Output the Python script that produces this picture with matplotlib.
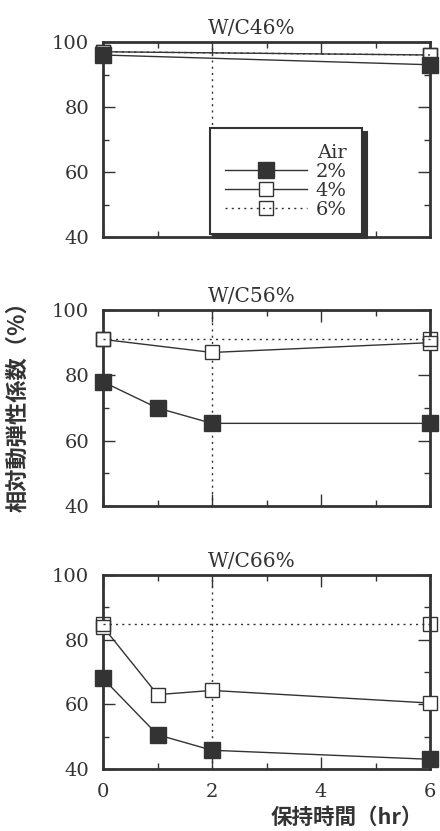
import matplotlib
matplotlib.use("Agg")
import matplotlib.pyplot as plt
from matplotlib.ticker import MultipleLocator

plt.rcParams['font.family'] = ['DejaVu Serif']

INK = '#333333'

panels = ['W/C46%', 'W/C56%', 'W/C66%']

# Top panel W/C46%
wc46_x = [0, 6]
wc46_2 = [96, 93]
wc46_4 = [97, 96]
wc46_6 = [97, 96]

# Middle panel W/C56%
wc56_x2 = [0, 1, 2, 6]
wc56_2 = [78, 70, 65.3, 65.3]
wc56_x4 = [0, 2, 6]
wc56_4 = [91, 87, 90]
wc56_x6 = [0, 6]
wc56_6 = [91, 91]

# Bottom panel W/C66%
wc66_x2 = [0, 1, 2, 6]
wc66_2 = [68, 50.6, 45.8, 43]
wc66_x4 = [0, 1, 2, 6]
wc66_4 = [84, 63, 64.3, 60.4]
wc66_x6 = [0, 6]
wc66_6 = [85, 85]

legend_labels = ['2%', '4%', '6%']
legend_title = 'Air'
ylabel = '相対動弾性係数（%）'
xlabel = '保持時間（hr）'
xticks = [0, 2, 4, 6]
yticks = [40, 60, 80, 100]

fig = plt.figure(figsize=(4.40, 8.31), dpi=100)
W, H = 440, 831
boxes = [(42, 237), (310, 506), (575, 769)]
axes = []
for (t, b) in boxes:
    ax = fig.add_axes([103 / W, 1 - b / H, 327 / W, (b - t) / H])
    axes.append(ax)

data = [
    ((wc46_x, wc46_2), (wc46_x, wc46_4), (wc46_x, wc46_6)),
    ((wc56_x2, wc56_2), (wc56_x4, wc56_4), (wc56_x6, wc56_6)),
    ((wc66_x2, wc66_2), (wc66_x4, wc66_4), (wc66_x6, wc66_6)),
]

for i, ax in enumerate(axes):
    s2, s4, s6 = data[i]
    ax.axvline(2, color=INK, lw=1.0, ls=(0, (1.5, 3)), zorder=1)
    l2, = ax.plot(s2[0], s2[1], color=INK, lw=1.0, marker='s', ms=11,
                  mfc=INK, mec=INK, clip_on=False, zorder=4)
    l4, = ax.plot(s4[0], s4[1], color=INK, lw=1.0, marker='s', ms=10,
                  mfc='white', mec=INK, mew=1.0, clip_on=False, zorder=3)
    l6, = ax.plot(s6[0], s6[1], color=INK, lw=1.0, ls=(0, (1.5, 3)), marker='s', ms=10,
                  mfc='none', mec=INK, mew=1.0, clip_on=False, zorder=3)
    ax.set_xlim(0, 6)
    ax.set_ylim(40, 100)
    ax.xaxis.set_major_locator(MultipleLocator(2))
    ax.xaxis.set_minor_locator(MultipleLocator(1))
    ax.yaxis.set_major_locator(MultipleLocator(20))
    ax.yaxis.set_minor_locator(MultipleLocator(10))
    ax.tick_params(which='both', direction='in', top=True, right=True,
                   color=INK, width=1.0)
    ax.tick_params(which='major', length=8.5, labelsize=14, labelcolor=INK, pad=10)
    ax.tick_params(which='minor', length=4.5)
    ax.set_yticks(yticks)
    if i < 2:
        ax.tick_params(labelbottom=False)
    else:
        ax.set_xticks(xticks)
    for sp in ax.spines.values():
        sp.set_linewidth(2.0)
        sp.set_color(INK)
    ax.set_title(panels[i], fontsize=14.5, color=INK, x=0.456, pad=6)
    if i == 0:
        leg = ax.legend([l2, l4, l6], legend_labels, title=legend_title,
                        loc='lower left', bbox_to_anchor=(0.327, 0.015),
                        borderaxespad=0, fontsize=14, title_fontsize=14,
                        handlelength=4.2, handletextpad=0.45, labelspacing=0.05,
                        borderpad=0.8, alignment='right', fancybox=False,
                        framealpha=1, edgecolor=INK, markerfirst=True,
                        shadow={'color': INK, 'alpha': 1, 'ox': 3, 'oy': -3})
        leg.get_frame().set_linewidth(1.5)
        for t in leg.get_texts():
            t.set_color(INK)
        leg.get_title().set_color(INK)

cjk = ['Noto Sans CJK JP', 'DejaVu Sans']
fig.text(18 / W, 1 - 401 / H, ylabel, rotation=90, ha='center', va='center',
         fontsize=16, fontweight='bold', family=cjk, color=INK)
fig.text(347 / W, 1 - 817 / H, xlabel, ha='center', va='center',
         fontsize=15.5, fontweight='bold', family=cjk, color=INK)

fig.savefig('out.png', dpi=100, facecolor='white')
